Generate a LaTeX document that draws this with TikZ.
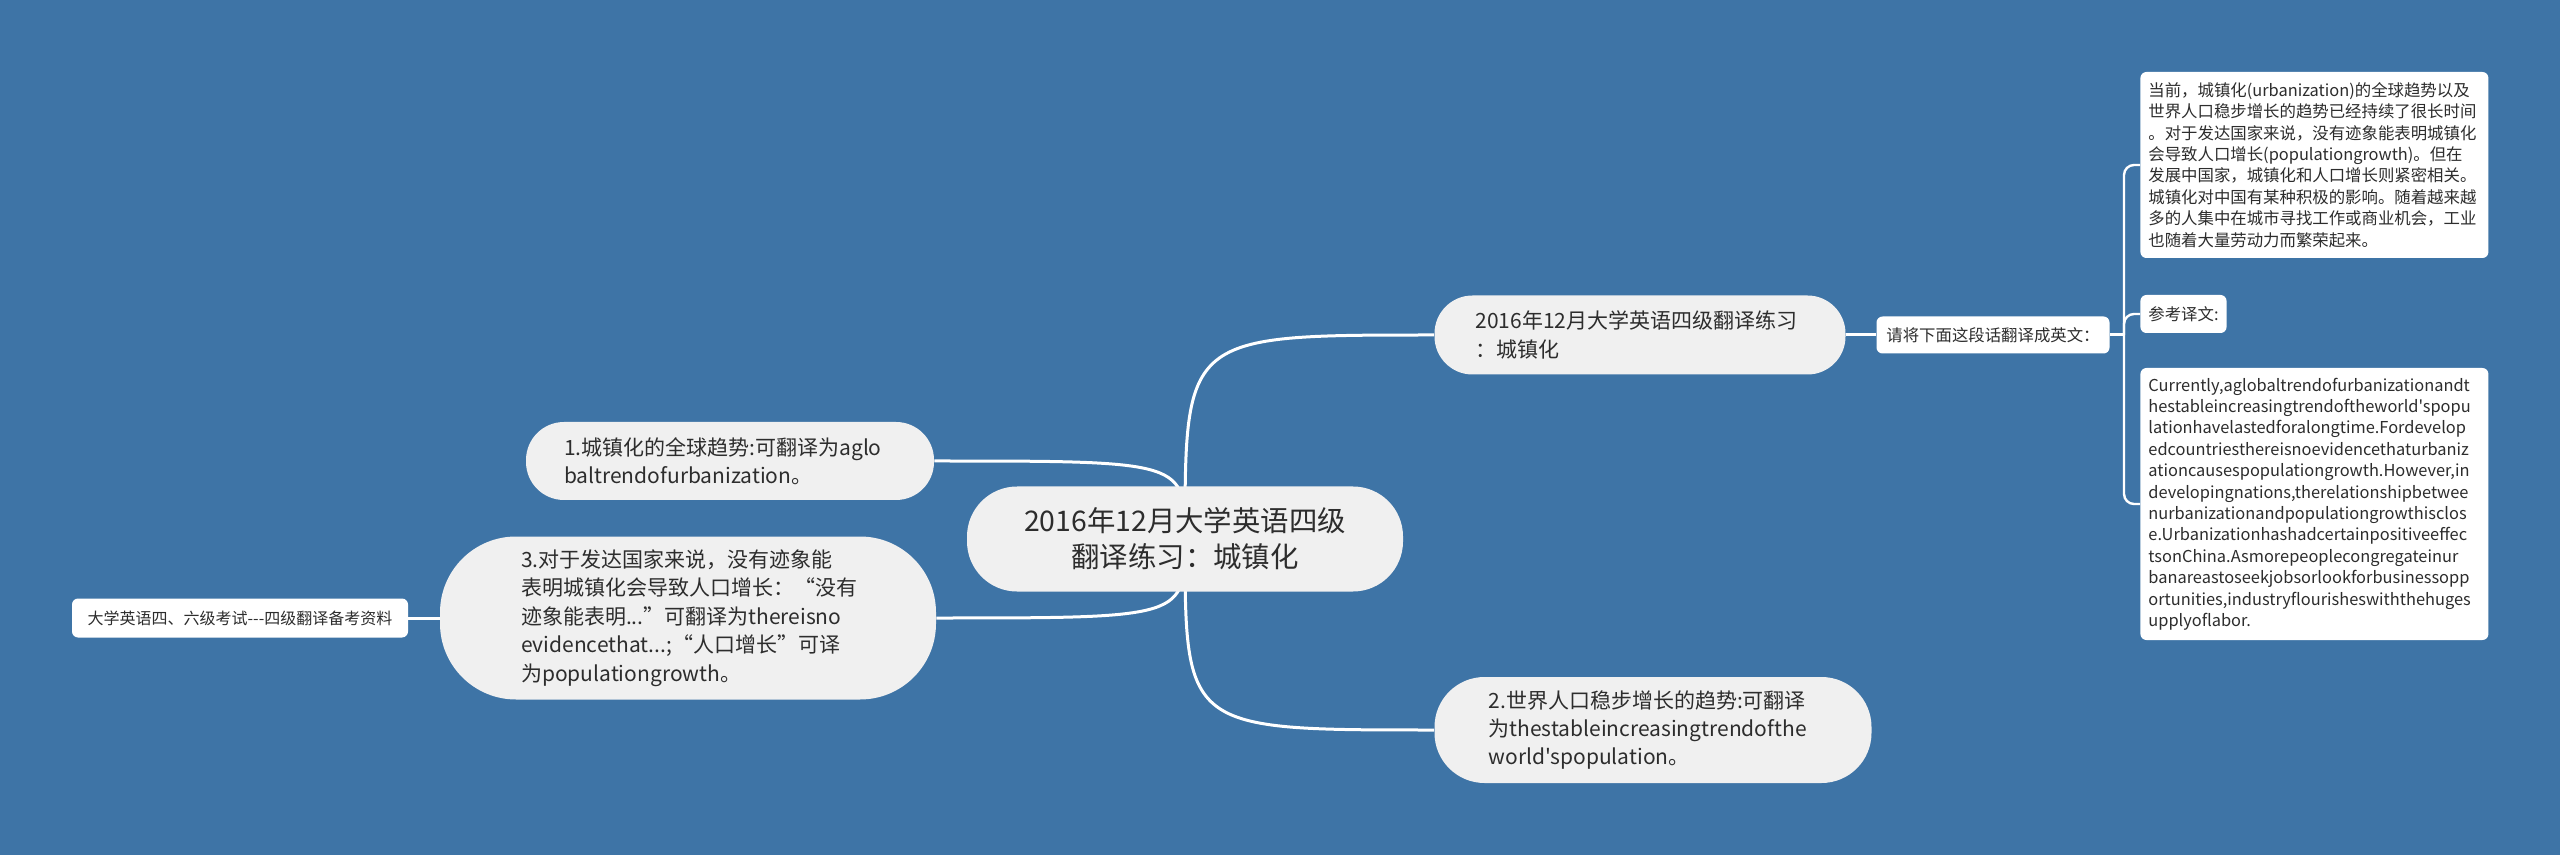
\documentclass[tikz,border=0pt]{standalone}
\usepackage{fontspec}
\usetikzlibrary{backgrounds}
\newfontfamily\yahei{Noto Sans CJK SC}
\hyphenpenalty=10000

\definecolor{bgblue}{RGB}{62,116,166}
\definecolor{topicgray}{RGB}{240,240,240}
\definecolor{textdark}{RGB}{45,45,45}

\tikzset{
  rootnode/.style={fill=topicgray, text=textdark, align=center, rounded corners=25pt,
    minimum width=218pt, minimum height=52.5pt, font=\yahei\fontsize{14.2}{18}\selectfont},
  topic/.style={fill=topicgray, text=textdark, align=left, inner ysep=0pt,
    font=\yahei\fontsize{10.5}{14.2}\selectfont},
  leaf/.style={fill=white, text=textdark, align=left, rounded corners=3pt, inner xsep=4pt,
    font=\yahei\fontsize{8.2}{10.7}\selectfont},
  link/.style={white, line width=1.5pt},
  forklink/.style={white, line width=1.2pt, rounded corners=5pt}
}

\begin{document}
\begin{tikzpicture}[x=0.5pt, y=-0.5pt]
    % central topic
    \node[rootnode] (root) at (1185,539) {2016年12月大学英语四级\\翻译练习：城镇化};

    % main topics
    \node[topic, text width=164.5pt, inner xsep=20.5pt, minimum height=39.5pt, rounded corners=19pt]
        (title) at (1640,335) {2016年12月大学英语四级翻译练习\\：城镇化};
    \node[topic, text width=166pt, inner xsep=19pt, minimum height=39pt, rounded corners=19pt]
        (trend) at (730,461) {1.城镇化的全球趋势:可翻译为aglo\\baltrendofurbanization。};
    \node[topic, text width=167pt, inner xsep=40.5pt, minimum height=81.5pt, rounded corners=38pt]
        (evidence) at (688,618) {3.对于发达国家来说，没有迹象能\\表明城镇化会导致人口增长：“没有\\迹象能表明...”可翻译为thereisno\\evidencethat...;“人口增长”可译\\为populationgrowth。};
    \node[topic, text width=164.5pt, inner xsep=27pt, minimum height=53pt, rounded corners=25pt]
        (growth) at (1653,730) {2.世界人口稳步增长的趋势:可翻译\\为thestableincreasingtrendofthe\\world'spopulation。};

    % subtopics
    \node[leaf, align=center, minimum width=168pt, minimum height=19.5pt, font=\yahei\fontsize{8}{10}\selectfont]
        (source) at (240,618) {大学英语四、六级考试---四级翻译备考资料};
    \node[leaf, align=center, minimum width=116.5pt, minimum height=18.5pt]
        (task) at (1993,335) {请将下面这段话翻译成英文：};
    \coordinate (fork) at (2124,335);
    \node[leaf, anchor=west, text width=166pt, minimum height=93pt] (chinese) at (2140,165)
        {当前，城镇化(urbanization)的全球趋势以及\\世界人口稳步增长的趋势已经持续了很长时间\\。对于发达国家来说，没有迹象能表明城镇化\\会导致人口增长(populationgrowth)。但在\\发展中国家，城镇化和人口增长则紧密相关。\\城镇化对中国有某种积极的影响。随着越来越\\多的人集中在城市寻找工作或商业机会，工业\\也随着大量劳动力而繁荣起来。};
    \node[leaf, anchor=west, minimum height=19pt] (refer) at (2140,314) {参考译文:};
    \node[leaf, anchor=west, text width=166pt, minimum height=136pt] (english) at (2140,504)
        {Currently,aglobaltrendofurbanizationandt\\hestableincreasingtrendoftheworld'spopu\\lationhavelastedforalongtime.Fordevelop\\edcountriesthereisnoevidencethaturbaniz\\ationcausespopulationgrowth.However,in\\developingnations,therelationshipbetwee\\nurbanizationandpopulationgrowthisclos\\e.Urbanizationhashadcertainpositiveeffec\\tsonChina.Asmorepeoplecongregateinur\\banareastoseekjobsorlookforbusinessopp\\ortunities,industryflourisheswiththehuges\\upplyoflabor.};

    % background and connectors
    \begin{scope}[on background layer]
        \fill[bgblue] (0,0) rectangle (2560,855);
        \draw[link] (root.center) .. controls (root.center |- title.west) .. (title.west);
        \draw[link] (root.center) .. controls (root.center |- trend.east) .. (trend.east);
        \draw[link] (root.center) .. controls (root.center |- evidence.east) .. (evidence.east);
        \draw[link] (root.center) .. controls (root.center |- growth.west) .. (growth.west);
        \draw[link] (source.east) -- (evidence.west);
        \draw[link] (title.east) -- (task.west);
        \draw[link] (task.east) -- (fork);
        \draw[forklink] (fork) |- (chinese.west);
        \draw[forklink] (fork) |- (refer.west);
        \draw[forklink] (fork) |- (english.west);
    \end{scope}
\end{tikzpicture}
\end{document}
